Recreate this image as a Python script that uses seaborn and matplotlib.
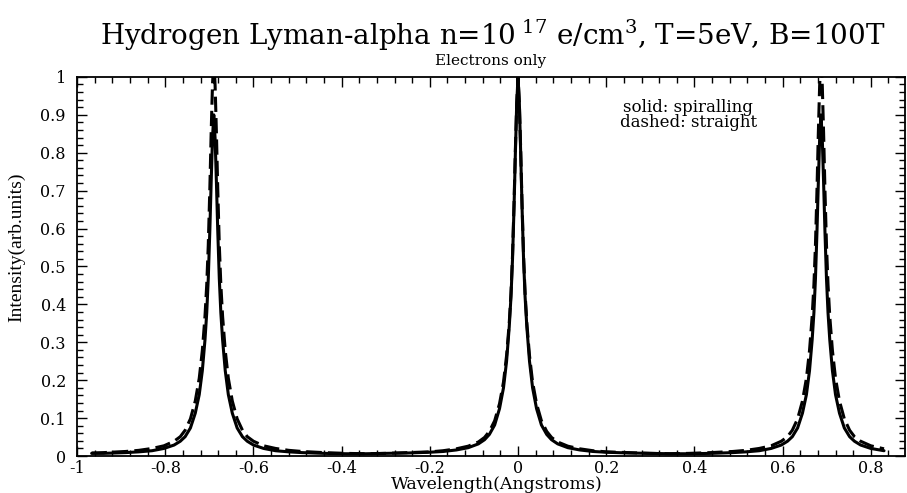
import pandas as pd
import seaborn as sns
import matplotlib.pyplot as plt
from matplotlib.ticker import MultipleLocator, FuncFormatter

# Wavelength samples (Angstroms) around the three Zeeman components
wl_blue = [-0.967, -0.94, -0.89, -0.86, -0.83, -0.803, -0.78, -0.766, -0.755, -0.743,
           -0.732, -0.723, -0.716, -0.71, -0.706, -0.7025, -0.699, -0.696, -0.693, -0.69,
           -0.687, -0.684, -0.681, -0.6775, -0.674, -0.67, -0.664, -0.657, -0.648, -0.637,
           -0.625, -0.614, -0.6, -0.577, -0.55, -0.52, -0.49, -0.44, -0.39, -0.345]
wl_center = [-0.3, -0.25, -0.2, -0.17, -0.14, -0.113, -0.09, -0.076, -0.065, -0.053,
             -0.042, -0.033, -0.026, -0.02, -0.016, -0.0125, -0.009, -0.006, -0.003, 0.0,
             0.003, 0.006, 0.009, 0.0125, 0.016, 0.02, 0.026, 0.033, 0.042, 0.053,
             0.065, 0.076, 0.09, 0.113, 0.14, 0.17, 0.2, 0.25, 0.3, 0.344]
wl_red = [0.387, 0.437, 0.487, 0.517, 0.547, 0.574, 0.597, 0.611, 0.622, 0.634,
          0.645, 0.654, 0.661, 0.667, 0.671, 0.6745, 0.678, 0.681, 0.684, 0.687,
          0.69, 0.693, 0.696, 0.6995, 0.703, 0.707, 0.713, 0.72, 0.729, 0.74,
          0.752, 0.763, 0.777, 0.8, 0.83]

# solid: spiralling electrons
spiral_blue = [0.007, 0.007, 0.009, 0.011, 0.014, 0.020, 0.029, 0.039, 0.051, 0.074,
               0.113, 0.162, 0.225, 0.306, 0.378, 0.468, 0.594, 0.720, 0.837, 0.900,
               0.837, 0.720, 0.594, 0.468, 0.378, 0.306, 0.225, 0.162, 0.113, 0.074,
               0.051, 0.039, 0.029, 0.020, 0.014, 0.011, 0.009, 0.007, 0.006, 0.006]
spiral_center = [0.007, 0.008, 0.010, 0.012, 0.016, 0.022, 0.032, 0.043, 0.057, 0.082,
                 0.125, 0.18, 0.25, 0.34, 0.42, 0.52, 0.66, 0.80, 0.93, 1.0,
                 0.93, 0.80, 0.66, 0.52, 0.42, 0.34, 0.25, 0.18, 0.125, 0.082,
                 0.057, 0.043, 0.032, 0.022, 0.016, 0.012, 0.010, 0.008, 0.007, 0.006]
spiral_red = [0.006, 0.007, 0.009, 0.011, 0.014, 0.020, 0.029, 0.039, 0.051, 0.074,
              0.113, 0.162, 0.225, 0.306, 0.378, 0.468, 0.594, 0.720, 0.837, 0.900,
              0.837, 0.720, 0.594, 0.468, 0.378, 0.306, 0.225, 0.162, 0.113, 0.074,
              0.051, 0.039, 0.029, 0.020, 0.014]

# dashed: straight trajectories
straight_blue = [0.008, 0.009, 0.012, 0.015, 0.020, 0.027, 0.039, 0.051, 0.068, 0.098,
                 0.145, 0.205, 0.278, 0.368, 0.452, 0.557, 0.704, 0.851, 0.977, 1.05,
                 0.977, 0.851, 0.704, 0.557, 0.452, 0.368, 0.278, 0.205, 0.145, 0.098,
                 0.068, 0.051, 0.039, 0.027, 0.020, 0.015, 0.012, 0.009, 0.007, 0.006]
straight_center = [0.007, 0.009, 0.011, 0.014, 0.019, 0.026, 0.037, 0.049, 0.065, 0.093,
                   0.138, 0.195, 0.265, 0.35, 0.43, 0.53, 0.67, 0.81, 0.93, 1.0,
                   0.93, 0.81, 0.67, 0.53, 0.43, 0.35, 0.265, 0.195, 0.138, 0.093,
                   0.065, 0.049, 0.037, 0.026, 0.019, 0.014, 0.011, 0.009, 0.007, 0.006]
straight_red = [0.007, 0.009, 0.012, 0.015, 0.020, 0.027, 0.039, 0.051, 0.068, 0.098,
                0.145, 0.205, 0.278, 0.368, 0.452, 0.557, 0.704, 0.851, 0.977, 1.05,
                0.977, 0.851, 0.704, 0.557, 0.452, 0.368, 0.278, 0.205, 0.145, 0.098,
                0.068, 0.051, 0.039, 0.027, 0.019]

wavelength = wl_blue + wl_center + wl_red
spiralling = spiral_blue + spiral_center + spiral_red
straight = straight_blue + straight_center + straight_red

df = pd.DataFrame({'wl': wavelength, 'spiralling': spiralling, 'straight': straight})

sns.set_style('ticks')
plt.rcParams['font.family'] = ['DejaVu Serif']
plt.rcParams['mathtext.fontset'] = 'dejavuserif'
plt.rcParams['axes.unicode_minus'] = False
# plain black everywhere, like the original IDL plot
for key in ['text.color', 'axes.labelcolor', 'xtick.color', 'ytick.color', 'axes.edgecolor']:
    plt.rcParams[key] = 'black'

fig = plt.figure(figsize=(9.07, 4.93), dpi=100)
ax = fig.add_axes([0.085, 0.075, 0.913, 0.769])

sns.lineplot(data=df, x='wl', y='spiralling', ax=ax, color='black', lw=2.2,
             estimator=None, sort=False)
sns.lineplot(data=df, x='wl', y='straight', ax=ax, color='black', lw=2.2,
             estimator=None, sort=False, linestyle=(0, (5, 2)))

ax.set_xlim(-1, 0.878)
ax.set_ylim(0, 1)
ax.xaxis.set_major_locator(MultipleLocator(0.2))
ax.xaxis.set_minor_locator(MultipleLocator(0.04))
ax.yaxis.set_major_locator(MultipleLocator(0.1))
ax.yaxis.set_minor_locator(MultipleLocator(0.02))
fmt = FuncFormatter(lambda v, p: f"{round(v, 2):g}")
ax.xaxis.set_major_formatter(fmt)
ax.yaxis.set_major_formatter(fmt)
ax.tick_params(which='both', direction='in', top=True, right=True, width=1, labelsize=11.5)
ax.tick_params(axis='y', which='major', pad=8)
ax.tick_params(axis='x', which='major', pad=3)
ax.tick_params(which='major', length=7)
ax.tick_params(which='minor', length=4)
for s in ax.spines.values():
    s.set_linewidth(1.3)

ax.set_xlabel('Wavelength(Angstroms)', fontsize=12.5)
ax.xaxis.set_label_coords(0.507, -0.054)
ax.set_ylabel('Intensity(arb.units)', fontsize=14, family='Liberation Serif')
ax.yaxis.set_label_coords(-0.063, 0.55)

fig.text(0.543, 0.908, r'Hydrogen Lyman-alpha n=10$^{\ 17}$ e/cm$^{3}$, T=5eV, B=100T',
         ha='center', va='baseline', fontsize=20)
fig.text(0.541, 0.876, 'Electrons only', ha='center', va='center', fontsize=11)
ax.text(0.738, 0.9, 'solid: spiralling\ndashed: straight', transform=ax.transAxes,
        ha='center', va='center', fontsize=12, linespacing=0.85)

fig.savefig('out.png', dpi=100)
